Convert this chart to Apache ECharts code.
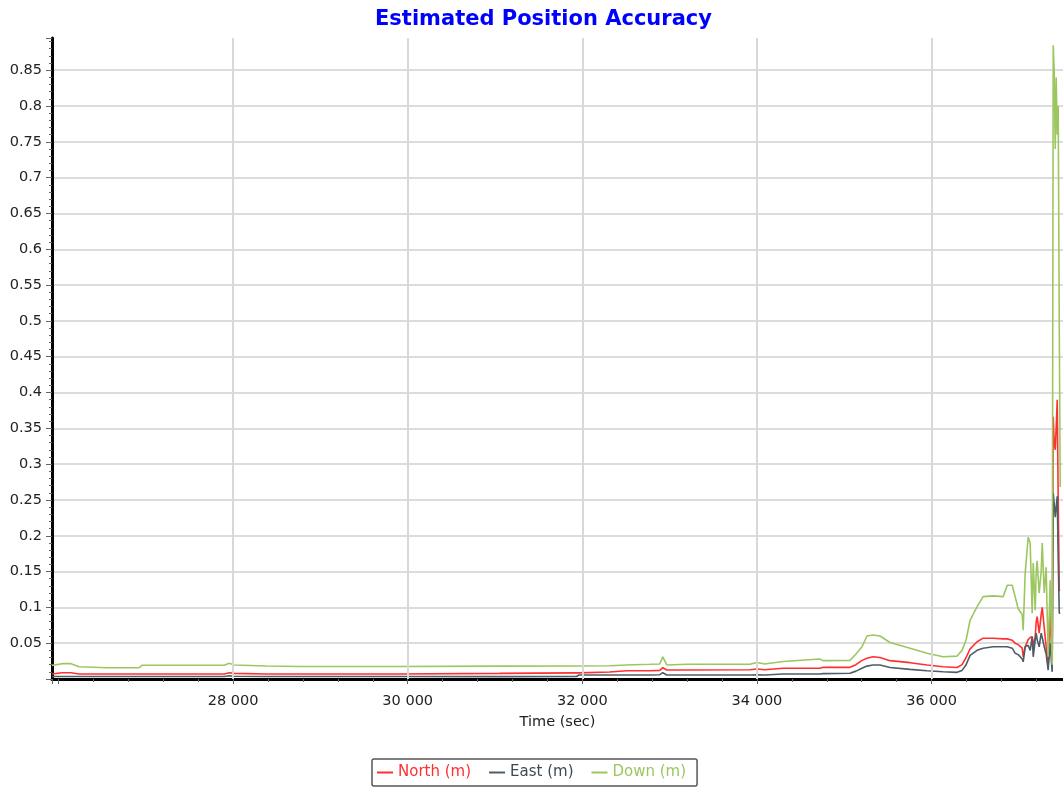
<!DOCTYPE html>
<html>
<head>
<meta charset="utf-8">
<title>Estimated Position Accuracy</title>
<script src="https://cdn.jsdelivr.net/npm/echarts@6/dist/echarts.min.js"></script>
<style>
	html, body { margin: 0; padding: 0; background: #fff; }
	#chart { width: 1063px; height: 790px; }
</style>
</head>
<body>
<div id="chart"></div>
<script>
// time of each sample (sec)
const timeSec = [
	25926, 26041, 26144, 26236, 26557, 26924, 26958, 27898, 27956, 28013,
	28380, 28758, 29905, 31052, 31935, 31960, 32313, 32508, 32772, 32887,
	32921, 32967, 33196, 33918, 33999, 34091, 34297, 34721, 34756, 35065,
	35134, 35203, 35260, 35329, 35409, 35524, 35753, 35948, 36132, 36292,
	36349, 36395, 36441, 36521, 36590, 36705, 36820, 36866, 36923, 36957,
	36992, 37038, 37049, 37072, 37106, 37129, 37152, 37164, 37187, 37198,
	37209, 37232, 37255, 37267, 37290, 37312, 37335, 37358, 37381, 37393,
	37404, 37416, 37427, 37439, 37450, 37462, 37473
];
// North (m)
const north = [
	0.007, 0.0088, 0.0088, 0.007, 0.007, 0.007, 0.007, 0.007, 0.0088, 0.0078,
	0.007, 0.007, 0.007, 0.0078, 0.0085, 0.0085, 0.0098, 0.0116, 0.0116, 0.012,
	0.0158, 0.0126, 0.0126, 0.013, 0.014, 0.013, 0.015, 0.015, 0.0163, 0.0163,
	0.02, 0.026, 0.029, 0.031, 0.03, 0.0256, 0.0228, 0.0196, 0.017, 0.016,
	0.02, 0.03, 0.042, 0.052, 0.057, 0.057, 0.056, 0.056, 0.054, 0.05,
	0.048, 0.043, 0.031, 0.045, 0.055, 0.058, 0.059, 0.045, 0.06, 0.08,
	0.087, 0.064, 0.09, 0.1, 0.072, 0.045, 0.017, 0.092, 0.02, 0.366,
	0.33, 0.32, 0.35, 0.39, 0.25, 0.124, 0.124
];
// East (m)
const east = [
	0.0035, 0.0035, 0.0035, 0.0035, 0.0035, 0.0035, 0.0035, 0.0035, 0.0045, 0.0038,
	0.0035, 0.0035, 0.0035, 0.0033, 0.0035, 0.0056, 0.0056, 0.0056, 0.0056, 0.006,
	0.0088, 0.0056, 0.0056, 0.0056, 0.006, 0.0056, 0.007, 0.007, 0.0075, 0.008,
	0.011, 0.015, 0.018, 0.0196, 0.0196, 0.016, 0.0135, 0.0116, 0.0102, 0.0093,
	0.012, 0.02, 0.033, 0.04, 0.043, 0.045, 0.045, 0.045, 0.043, 0.036,
	0.034, 0.028, 0.024, 0.045, 0.047, 0.04, 0.059, 0.031, 0.055, 0.064,
	0.055, 0.045, 0.064, 0.058, 0.045, 0.035, 0.0125, 0.05, 0.01, 0.26,
	0.245, 0.226, 0.24, 0.255, 0.17, 0.092, 0.092
];
// Down (m)
const down = [
	0.019, 0.0214, 0.0214, 0.0172, 0.0158, 0.0158, 0.0191, 0.0191, 0.0219, 0.0195,
	0.0182, 0.0175, 0.0175, 0.018, 0.0182, 0.0182, 0.0185, 0.0196, 0.0205, 0.021,
	0.031, 0.0196, 0.0205, 0.0205, 0.023, 0.021, 0.0245, 0.028, 0.0256, 0.026,
	0.035, 0.045, 0.06, 0.0615, 0.06, 0.051, 0.043, 0.036, 0.031, 0.032,
	0.04, 0.0545, 0.082, 0.101, 0.115, 0.116, 0.115, 0.131, 0.131, 0.115,
	0.098, 0.09, 0.068, 0.148, 0.198, 0.19, 0.092, 0.162, 0.096, 0.15,
	0.165, 0.12, 0.15, 0.19, 0.12, 0.156, 0.031, 0.138, 0.02, 0.885,
	0.85, 0.74, 0.84, 0.76, 0.8, 0.5, 0.268
];
// labelled x ticks (vertical grid lines)
const xTicks = [28000, 30000, 32000, 34000, 36000];

const xMin = 25926;
const xMax = 37505;
const yMax = 0.895;
const font = 'DejaVu Sans';

const colors = { north: '#ff3030', east: '#4e5d68', down: '#9cc760' };

function toPairs(values) {
	return timeSec.map((t, i) => [t, values[i]]);
}
function spaced(v) {
	return String(Math.round(v)).replace(/\B(?=(\d{3})+(?!\d))/g, ' ');
}

const chart = echarts.init(document.getElementById('chart'));

const lineSeries = function (name, values, color) {
	return {
		name,
		type: 'line',
		data: toPairs(values),
		showSymbol: false,
		symbol: 'none',
		clip: true,
		z: 3,
		lineStyle: { color, width: 1.6 },
		itemStyle: { color }
	};
};

chart.setOption({
	animation: false,
	backgroundColor: '#fff',
	textStyle: { fontFamily: font },
	title: {
		text: 'Estimated Position Accuracy',
		left: 370,
		top: 4,
		textStyle: { fontFamily: font, fontSize: 21, fontWeight: 'bold', color: '#0000ff' }
	},
	legend: {
		left: 372,
		top: 759,
		padding: [6, 11, 6, 5],
		itemGap: 18,
		itemWidth: 16,
		itemHeight: 2,
		icon: 'rect',
		borderColor: '#555',
		borderWidth: 1.5,
		borderRadius: 2,
		textStyle: { fontFamily: font, fontSize: 15 },
		data: [
			{ name: 'North (m)', textStyle: { color: colors.north } },
			{ name: 'East (m)', textStyle: { color: '#3e4a55' } },
			{ name: 'Down (m)', textStyle: { color: colors.down } }
		]
	},
	grid: { left: 52, right: 0, top: 38, bottom: 111, containLabel: false },
	xAxis: {
		type: 'value',
		min: xMin,
		max: xMax,
		offset: 5,
		name: 'Time (sec)',
		nameLocation: 'middle',
		nameGap: 31,
		nameTextStyle: { fontFamily: font, fontSize: 14.5, color: '#222' },
		axisLine: { show: true, lineStyle: { color: '#000', width: 3 } },
		axisTick: { show: true, length: 5, lineStyle: { color: '#666' } },
		minorTick: { show: true, splitNumber: 5, length: 3, lineStyle: { color: '#666' } },
		axisLabel: {
			showMinLabel: false,
			showMaxLabel: false,
			margin: 10,
			fontFamily: font,
			fontSize: 14.5,
			color: '#222',
			formatter: v => xTicks.indexOf(Math.round(v)) >= 0 ? spaced(v) : ''
		},
		splitLine: { show: false }
	},
	yAxis: {
		type: 'value',
		min: 0,
		max: yMax,
		interval: 0.05,
		axisLine: { show: true, lineStyle: { color: '#000', width: 3 } },
		axisTick: { show: true, length: 6, lineStyle: { color: '#666' } },
		minorTick: { show: true, splitNumber: 5, length: 3, lineStyle: { color: '#666' } },
		axisLabel: {
			showMinLabel: false,
			showMaxLabel: false,
			margin: 10,
			fontFamily: font,
			fontSize: 14.5,
			color: '#222',
			formatter: v => (v <= 0 || v > 0.86) ? '' : String(+v.toFixed(2))
		},
		splitLine: {
			show: true,
			showMinLine: false,
			showMaxLine: false,
			lineStyle: { color: '#dcdcdc', width: 2 }
		}
	},
	series: [
		{
			// grid lines at the labelled times and the top frame
			name: 'frame',
			type: 'line',
			data: [],
			z: 1,
			silent: true,
			markLine: {
				silent: true,
				symbol: ['none', 'none'],
				animation: false,
				label: { show: false },
				lineStyle: { color: '#d8d8d8', width: 2, type: 'solid' },
				data: xTicks.map(v => ({ xAxis: v })).concat([
					{ yAxis: yMax, lineStyle: { color: '#8f8f8f', width: 2, type: 'solid' } }
				])
			}
		},
		lineSeries('North (m)', north, colors.north),
		lineSeries('East (m)', east, colors.east),
		lineSeries('Down (m)', down, colors.down)
	]
});
</script>
</body>
</html>
